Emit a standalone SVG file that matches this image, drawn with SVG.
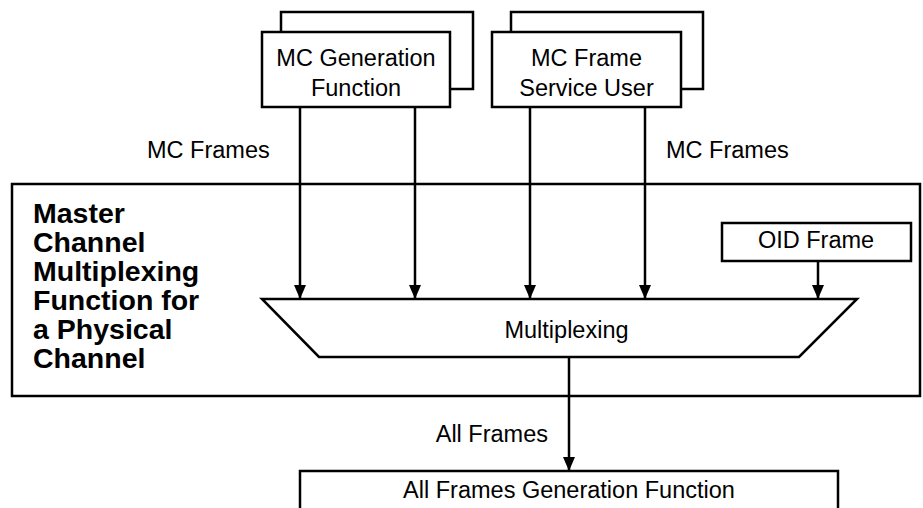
<svg xmlns="http://www.w3.org/2000/svg" width="923" height="508" viewBox="0 0 923 508">
<defs>
<style>
.box{fill:#fff;stroke:#000;stroke-width:2.5}
.ln{fill:none;stroke:#000;stroke-width:2.5}
.t{font-family:"Liberation Sans",Arial,Helvetica,sans-serif;font-size:23.5px;fill:#000}
.c{text-anchor:middle}
.b{font-family:"Liberation Sans",Arial,Helvetica,sans-serif;font-size:28.5px;font-weight:bold;fill:#000}
</style>
<marker id="ah" markerWidth="14" markerHeight="12" refX="14" refY="6" orient="auto" markerUnits="userSpaceOnUse" viewBox="0 0 14 12">
<path d="M0,0 L14,6 L0,12 Z" fill="#000"/>
</marker>
</defs>
<rect width="923" height="508" fill="#fff"/>

<g id="mcmf">
<rect class="box" x="12" y="184" width="908" height="212"/>
<text class="b" x="33" y="223">Master</text>
<text class="b" x="33" y="252">Channel</text>
<text class="b" x="33" y="281">Multiplexing</text>
<text class="b" x="33" y="310">Function for</text>
<text class="b" x="33" y="339">a Physical</text>
<text class="b" x="33" y="368">Channel</text>
</g>

<g id="mc-gen">
<path class="ln" d="M281,32 V12 H473 V89 H450"/>
<rect class="box" x="262" y="32" width="188" height="75"/>
<text class="t c" x="356" y="66">MC Generation</text>
<text class="t c" x="356" y="96">Function</text>
</g>

<g id="mc-fsu">
<path class="ln" d="M511,32 V12 H703 V89 H681"/>
<rect class="box" x="492" y="32" width="189" height="75"/>
<text class="t c" x="586.5" y="66">MC Frame</text>
<text class="t c" x="586.5" y="96">Service User</text>
</g>

<g id="oid">
<rect class="box" x="722" y="223" width="189" height="38"/>
<text class="t c" x="816" y="248">OID Frame</text>
</g>

<g id="mux">
<path class="box" d="M262,299 H857 L799,357 H319 Z"/>
<text class="t c" x="566.5" y="338">Multiplexing</text>
</g>

<g id="afgf">
<rect class="box" x="300" y="471" width="538" height="60"/>
<text class="t c" x="569" y="498">All Frames Generation Function</text>
</g>

<g id="connectors">
<line class="ln" x1="300" y1="107" x2="300" y2="299" marker-end="url(#ah)"/>
<line class="ln" x1="415" y1="107" x2="415" y2="299" marker-end="url(#ah)"/>
<line class="ln" x1="530" y1="107" x2="530" y2="299" marker-end="url(#ah)"/>
<line class="ln" x1="645" y1="107" x2="645" y2="299" marker-end="url(#ah)"/>
<line class="ln" x1="818" y1="261" x2="818" y2="299" marker-end="url(#ah)"/>
<line class="ln" x1="569" y1="357" x2="569" y2="471" marker-end="url(#ah)"/>
<text class="t" x="147" y="158">MC Frames</text>
<text class="t" x="666" y="158">MC Frames</text>
<text class="t" x="548" y="442" text-anchor="end">All Frames</text>
</g>
</svg>
